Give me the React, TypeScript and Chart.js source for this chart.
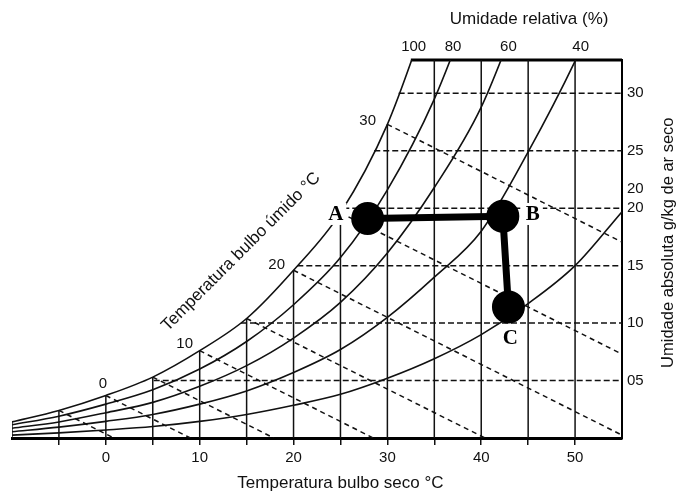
import React, { useEffect, useRef } from 'react';
import { Chart, registerables } from 'chart.js';
Chart.register(...registerables);

// ---- data (dry bulb °C / absolute humidity g/kg) ----
const dryBulb = [-10, -5, 0, 5, 10, 15, 20, 25, 30, 35, 40, 45, 50, 55];
const rh100 = [1.4, 2.4, 3.7, 5.3, 7.6, 10.4, 14.6, 19.6, 27.3, 38.5, null, null, null, null];
const rh80 = [1.15, 1.9, 2.95, 4.2, 6.0, 8.4, 11.6, 15.7, 21.6, 29.5, 40, null, null, null];
const rh60 = [0.85, 1.4, 2.2, 3.1, 4.5, 6.3, 8.7, 11.8, 16.1, 21.8, 28.8, 39, null, null];
const rh40 = [0.55, 0.95, 1.45, 2.05, 2.95, 4.1, 5.7, 7.7, 10.5, 14.0, 18.0, 24.9, 32.8, 42];
const rh20 = [0.25, 0.45, 0.7, 1.0, 1.45, 2.05, 2.85, 3.8, 5.2, 6.9, 9.0, 11.7, 15.0, 19.7];
const rhCurves = [rh100, rh80, rh60, rh40, rh20];
const rhLabels = ['100', '80', '60', '40'];
const rhLabelT = [32.8, 37, 42.9, 50.6];

const gridT = [-10, -5, 0, 5, 10, 15, 20, 25, 30, 35, 40, 45, 50];
const gridTopW = [1.4, 2.4, 3.7, 5.3, 7.6, 10.4, 14.6, 19.6, 27.3, 33, 33, 33, 33];

const humidW = [5, 10, 15, 20, 25, 30];
const humidStartT = [5.1, 14.4, 20.4, 25.3, 28.6, 31.2];

const wetStartT = [-5, 0, 5, 10, 15, 20, 25, 30];
const wetStartW = [2.4, 3.7, 5.3, 7.6, 10.4, 14.6, 19.6, 27.3];
const wetEndT = [0.85, 9.0, 17.9, 28.5, 40.4, 55, 55, 55];
const wetEndW = [0, 0, 0, 0, 0, 0.25, 7.3, 17.05];
const wetLabels = ['0', '10', '20', '30'];
const wetLabelT = [-0.3, 8.4, 18.2, 27.9];
const wetLabelW = [4.7, 8.2, 15.1, 27.6];

const processNames = ['A', 'B', 'C'];
const processT = [27.9, 42.3, 42.9];
const processW = [19.1, 19.3, 11.4];
const processLabelT = [24.5, 45.5, 43.1];
const processLabelW = [19.5, 19.5, 8.7];

const xTickValues = [-5, 0, 5, 10, 15, 20, 25, 30, 35, 40, 45, 50];
const xTickLabels = ['', '0', '', '10', '', '20', '', '30', '', '40', '', '50'];
const yTickValues = [5, 10, 15, 20, 21.7, 25, 30];
const yTickLabels = ['05', '10', '15', '20', '20', '25', '30'];

const topBorderT = [32.5, 55];

const titleTop = 'Umidade relativa (%)';
const titleBottom = 'Temperatura bulbo seco °C';
const titleRight = 'Umidade absoluta g/kg de ar seco';
const titleWet = 'Temperatura bulbo úmido °C';

const X_MIN = -10, X_MAX = 55, Y_MIN = 0, Y_MAX = 32.9;
const FONT = '"Liberation Sans", Arial, Helvetica, sans-serif';
const INK = '#111';

const textPlugin = {
  id: 'chartTexts',
  afterDatasetsDraw(chart: any) {
    const { ctx } = chart;
    const x = chart.scales.x, y = chart.scales.y;
    ctx.save();
    ctx.font = 'bold 21px "Liberation Serif", "DejaVu Serif", serif';
    ctx.textAlign = 'center';
    ctx.textBaseline = 'middle';
    processNames.forEach((n, i) => {
      const px = x.getPixelForValue(processLabelT[i]);
      const py = y.getPixelForValue(processLabelW[i]);
      const w = ctx.measureText(n).width;
      ctx.fillStyle = '#fff';
      ctx.fillRect(px - w / 2 - 3, py - 11, w + 6, 22);
      ctx.fillStyle = '#000';
      ctx.fillText(n, px, py + 1);
    });
    ctx.restore();
  },
  afterDraw(chart: any) {
    const { ctx, chartArea } = chart;
    const x = chart.scales.x, y = chart.scales.y;
    ctx.save();
    ctx.fillStyle = INK;
    ctx.textAlign = 'center';
    ctx.textBaseline = 'middle';
    ctx.font = '15px ' + FONT;
    rhLabels.forEach((l, i) => ctx.fillText(l, x.getPixelForValue(rhLabelT[i]), chartArea.top - 13));
    wetLabels.forEach((l, i) => ctx.fillText(l, x.getPixelForValue(wetLabelT[i]), y.getPixelForValue(wetLabelW[i])));
    ctx.font = '17px ' + FONT;
    ctx.fillText(titleTop, x.getPixelForValue(45.1), chartArea.top - 41);
    ctx.fillText(titleBottom, x.getPixelForValue(25), chartArea.bottom + 45);
    ctx.save();
    ctx.translate(x.getPixelForValue(14.4), y.getPixelForValue(16.2));
    ctx.rotate(-Math.PI / 4);
    ctx.fillText(titleWet, 0, 0);
    ctx.restore();
    ctx.font = '16.5px ' + FONT;
    ctx.save();
    ctx.translate(chartArea.right + 46, y.getPixelForValue(17));
    ctx.rotate(-Math.PI / 2);
    ctx.fillText(titleRight, 0, 0);
    ctx.restore();
    ctx.restore();
  },
};

function lineDs(points: { x: number; y: number }[], extra: any = {}) {
  return {
    type: 'line',
    data: points,
    borderColor: INK,
    borderWidth: 1.6,
    pointRadius: 0,
    fill: false,
    tension: 0,
    ...extra,
  };
}

export default function App() {
  const ref = useRef<HTMLCanvasElement | null>(null);
  useEffect(() => {
    if (!ref.current) return;
    const datasets: any[] = [];
    datasets.push(
      lineDs(
        processT.map((t, i) => ({ x: t, y: processW[i] })),
        { borderColor: '#000', borderWidth: 7, pointRadius: 13, pointBackgroundColor: '#000', pointBorderColor: '#000', clip: false }
      )
    );
    rhCurves.forEach((c) => {
      datasets.push(
        lineDs(
          dryBulb.map((t, i) => ({ x: t, y: c[i] as number })).filter((p) => p.y !== null),
          { cubicInterpolationMode: 'monotone' }
        )
      );
    });
    gridT.forEach((t, i) => {
      datasets.push(lineDs([{ x: t, y: 0 }, { x: t, y: gridTopW[i] }], { borderWidth: 1.5 }));
    });
    humidW.forEach((w, i) => {
      datasets.push(lineDs([{ x: humidStartT[i], y: w }, { x: X_MAX, y: w }], { borderWidth: 1.5, borderDash: [6, 3] }));
    });
    wetStartT.forEach((t, i) => {
      datasets.push(
        lineDs([{ x: t, y: wetStartW[i] }, { x: wetEndT[i], y: wetEndW[i] }], { borderWidth: 1.5, borderDash: [5, 4] })
      );
    });
    datasets.push(
      lineDs(topBorderT.map((t) => ({ x: t, y: Y_MAX })), { borderColor: '#000', borderWidth: 3, clip: false })
    );

    const chart = new Chart(ref.current, {
      type: 'line',
      data: { datasets },
      options: {
        animation: false,
        responsive: true,
        maintainAspectRatio: false,
        layout: { autoPadding: false, padding: { left: 12, top: 60, right: 0, bottom: 0 } },
        plugins: { legend: { display: false }, tooltip: { enabled: false } },
        scales: {
          x: {
            type: 'linear',
            min: X_MIN,
            max: X_MAX,
            afterBuildTicks: (s: any) => {
              s.ticks = xTickValues.map((v) => ({ value: v }));
            },
            afterFit: (s: any) => {
              s.height = 59;
              s.paddingLeft = 0;
              s.paddingRight = 0;
            },
            ticks: {
              callback: (_v: any, i: number) => xTickLabels[i],
              autoSkip: false,
              maxRotation: 0,
              padding: 4,
              color: INK,
              font: { family: FONT, size: 15 },
            },
            grid: { display: true, drawOnChartArea: false, drawTicks: true, tickLength: 7, color: INK, lineWidth: 1.5 },
            border: { display: true, color: '#000', width: 3 },
          },
          y: {
            type: 'linear',
            position: 'right',
            min: Y_MIN,
            max: Y_MAX,
            afterBuildTicks: (s: any) => {
              s.ticks = yTickValues.map((v) => ({ value: v }));
            },
            afterFit: (s: any) => {
              s.width = 58;
              s.paddingTop = 0;
              s.paddingBottom = 0;
            },
            ticks: {
              callback: (_v: any, i: number) => yTickLabels[i],
              autoSkip: false,
              padding: 5,
              color: INK,
              font: { family: FONT, size: 15 },
            },
            grid: { display: false, drawTicks: false },
            border: { display: true, color: '#000', width: 2 },
          },
        },
      },
      plugins: [textPlugin],
    } as any);
    return () => chart.destroy();
  }, []);
  return (
    <div style={{ position: 'fixed', left: 0, top: 0, width: 680, height: 497, background: '#fff' }}>
      <canvas ref={ref} />
    </div>
  );
}
